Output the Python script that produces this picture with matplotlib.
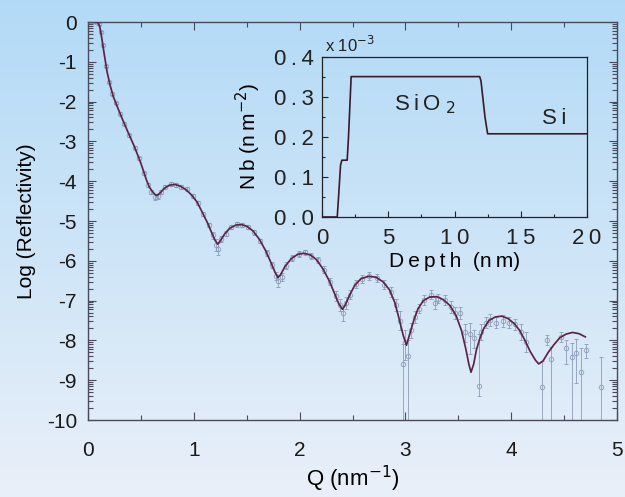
import numpy as np
import matplotlib
matplotlib.use("Agg")
import matplotlib.pyplot as plt
from matplotlib.ticker import FixedLocator, MultipleLocator, FuncFormatter

plt.rcParams['font.family'] = ['Liberation Sans', 'DejaVu Sans']
plt.rcParams['axes.unicode_minus'] = False

# --- fitted reflectivity curve ---
fit_q = [0.00, 0.05, 0.09, 0.11, 0.13, 0.15, 0.18, 0.21, 0.24, 0.28, 0.33, 0.38, 0.44,
         0.50, 0.55, 0.58, 0.62, 0.65, 0.68, 0.72, 0.77, 0.82, 0.87, 0.93, 0.98, 1.03,
         1.08, 1.13, 1.17, 1.20, 1.225, 1.25, 1.29, 1.34, 1.40, 1.45, 1.50, 1.56, 1.62,
         1.68, 1.73, 1.77, 1.795, 1.82, 1.86, 1.92, 1.98, 2.04, 2.10, 2.16, 2.22, 2.28,
         2.33, 2.37, 2.405, 2.43, 2.47, 2.52, 2.58, 2.65, 2.72, 2.79, 2.85, 2.90, 2.94,
         2.98, 3.01, 3.04, 3.08, 3.12, 3.17, 3.23, 3.30, 3.36, 3.42, 3.48, 3.53, 3.57,
         3.60, 3.62, 3.645, 3.67, 3.70, 3.74, 3.79, 3.85, 3.91, 3.97, 4.03, 4.08, 4.13,
         4.18, 4.23, 4.26, 4.30, 4.35, 4.40, 4.46, 4.52, 4.58, 4.64, 4.70]
fit_logr = [0.02, 0.03, 0.00, -0.10, -0.40, -0.75, -1.25, -1.60, -1.88, -2.15, -2.47, -2.78, -3.14,
            -3.55, -3.95, -4.15, -4.30, -4.36, -4.30, -4.18, -4.10, -4.08, -4.12, -4.22, -4.35, -4.52,
            -4.78, -5.05, -5.30, -5.48, -5.58, -5.50, -5.33, -5.18, -5.10, -5.09, -5.13, -5.25, -5.46,
            -5.75, -6.05, -6.30, -6.42, -6.35, -6.15, -5.95, -5.84, -5.81, -5.85, -5.97, -6.20, -6.50,
            -6.82, -7.08, -7.22, -7.12, -6.88, -6.62, -6.45, -6.39, -6.41, -6.53, -6.73, -7.05, -7.45,
            -7.88, -8.12, -7.85, -7.49, -7.20, -7.00, -6.91, -6.90, -6.98, -7.12, -7.38, -7.75, -8.20,
            -8.60, -8.80, -8.60, -8.25, -7.98, -7.70, -7.50, -7.41, -7.39, -7.45, -7.58, -7.75, -8.00,
            -8.28, -8.50, -8.59, -8.52, -8.30, -8.12, -7.93, -7.84, -7.80, -7.83, -7.91]

# --- measured points with error bars ---
data_q = [0.02, 0.04, 0.06, 0.08, 0.10, 0.12, 0.14, 0.17, 0.20, 0.23, 0.26, 0.30, 0.34, 0.39,
          0.44, 0.48, 0.53, 0.57, 0.60, 0.63, 0.66, 0.69, 0.73, 0.78, 0.83, 0.88, 0.94, 0.99,
          1.04, 1.09, 1.14, 1.18, 1.21, 1.23, 1.26, 1.30, 1.35, 1.41, 1.46, 1.51, 1.57, 1.63,
          1.69, 1.74, 1.78, 1.80, 1.83, 1.87, 1.93, 1.99, 2.05, 2.11, 2.17, 2.23, 2.29, 2.34,
          2.38, 2.41, 2.44, 2.48, 2.53, 2.59, 2.66, 2.73, 2.80, 2.86, 2.91, 2.95, 2.98, 3.00,
          3.02, 3.05, 3.09, 3.13, 3.18, 3.24, 3.28, 3.31, 3.37, 3.43, 3.47, 3.52, 3.56, 3.61,
          3.65, 3.70, 3.71, 3.76, 3.80, 3.86, 3.92, 3.98, 4.04, 4.09, 4.14, 4.29, 4.34, 4.38,
          4.47, 4.52, 4.57, 4.61, 4.66, 4.71, 4.85]
data_logr = [0.02, 0.03, 0.02, 0.01, -0.05, -0.25, -0.58, -1.10, -1.50, -1.80, -2.03, -2.30, -2.55, -2.85,
             -3.16, -3.42, -3.80, -4.10, -4.27, -4.40, -4.38, -4.27, -4.14, -4.07, -4.10, -4.14, -4.20, -4.38,
             -4.55, -4.82, -5.10, -5.36, -5.60, -5.70, -5.45, -5.32, -5.15, -5.08, -5.10, -5.15, -5.28, -5.50,
             -5.80, -6.10, -6.38, -6.50, -6.40, -6.12, -5.93, -5.83, -5.79, -5.88, -5.98, -6.22, -6.52, -6.88,
             -7.12, -7.30, -7.05, -6.85, -6.58, -6.46, -6.37, -6.43, -6.60, -6.78, -7.10, -7.50, -8.60, -8.05,
             -8.40, -7.75, -7.40, -7.20, -6.98, -6.85, -7.05, -6.95, -6.98, -7.15, -7.32, -7.31, -7.80, -7.85,
             -7.95, -9.15, -7.80, -7.55, -7.48, -7.55, -7.52, -7.55, -7.60, -7.80, -8.05, -9.17, -7.99, -8.47,
             -7.91, -8.20, -8.42, -8.31, -8.79, -8.24, -9.17]
err_lo = [0.03, 0.03, 0.03, 0.03, 0.03, 0.03, 0.03, 0.03, 0.03, 0.03, 0.03, 0.03, 0.03, 0.03,
          0.04, 0.04, 0.04, 0.05, 0.05, 0.08, 0.06, 0.05, 0.05, 0.05, 0.05, 0.05, 0.05, 0.05,
          0.05, 0.05, 0.06, 0.08, 0.15, 0.15, 0.08, 0.06, 0.06, 0.06, 0.06, 0.06, 0.06, 0.06,
          0.08, 0.08, 0.10, 0.15, 0.10, 0.08, 0.07, 0.07, 0.07, 0.07, 0.08, 0.08, 0.10, 0.12,
          0.15, 0.20, 0.15, 0.12, 0.10, 0.10, 0.10, 0.10, 0.12, 0.12, 0.15, 0.25, 1.60, 0.45,
          1.80, 0.20, 0.15, 0.12, 0.12, 0.12, 0.15, 0.12, 0.12, 0.15, 0.15, 0.15, 0.25, 0.50,
          0.25, 0.25, 0.20, 0.15, 0.15, 0.15, 0.15, 0.15, 0.15, 0.20, 0.25, 1.10, 0.12, 1.80,
          0.12, 0.40, 1.80, 0.75, 1.60, 0.20, 1.10]
err_hi = [0.03, 0.03, 0.03, 0.03, 0.03, 0.03, 0.03, 0.03, 0.03, 0.03, 0.03, 0.03, 0.03, 0.03,
          0.04, 0.04, 0.04, 0.05, 0.05, 0.08, 0.06, 0.05, 0.05, 0.05, 0.05, 0.05, 0.05, 0.05,
          0.05, 0.05, 0.06, 0.08, 0.15, 0.15, 0.08, 0.06, 0.06, 0.06, 0.06, 0.06, 0.06, 0.06,
          0.08, 0.08, 0.10, 0.15, 0.10, 0.08, 0.07, 0.07, 0.07, 0.07, 0.08, 0.08, 0.10, 0.12,
          0.15, 0.20, 0.15, 0.12, 0.10, 0.10, 0.10, 0.10, 0.12, 0.12, 0.15, 0.25, 0.50, 0.30,
          0.40, 0.20, 0.15, 0.12, 0.12, 0.12, 0.15, 0.12, 0.12, 0.15, 0.15, 0.15, 0.20, 0.30,
          0.20, 1.30, 0.20, 0.15, 0.15, 0.15, 0.15, 0.15, 0.15, 0.20, 0.25, 0.65, 0.12, 0.30,
          0.12, 0.20, 0.35, 0.35, 0.60, 0.15, 0.75]

# --- scattering length density profile (inset) ---
depth_nm = [0.0, 1.15, 1.25, 1.40, 1.50, 1.90, 2.00, 2.20, 11.90, 12.00, 12.30, 12.50, 20.0]
nb_1e3 = [0.0, 0.0, 0.05, 0.13, 0.142, 0.142, 0.20, 0.351, 0.351, 0.34, 0.25, 0.208, 0.208]

curve_color = '#5e2447'
point_color = '#8796b2'
spine_color = '#4b4a5c'

fig = plt.figure(figsize=(6.25, 4.97), dpi=100)

# soft blue backdrop
bg = fig.add_axes([0, 0, 1, 1], zorder=-10)
grad = np.linspace(0, 1, 256)[:, None]
top_rgb = np.array([0.70, 0.855, 0.965])
bot_rgb = np.array([0.915, 0.94, 0.975])
img = top_rgb[None, None, :] * (1 - grad[..., None]) + bot_rgb[None, None, :] * grad[..., None]
bg.imshow(img, aspect='auto', extent=[0, 1, 0, 1])
bg.axis('off')

ax = fig.add_axes([0.1408, 0.1549, 0.8464, 0.8008])
ax.set_facecolor('none')
ax.errorbar(data_q, data_logr, yerr=[err_lo, err_hi], fmt='o', ms=3.2, mfc='none',
            mec=point_color, mew=0.7, ecolor=point_color, elinewidth=0.7, capsize=1.2,
            capthick=0.6, zorder=2, alpha=0.8)
ax.plot(fit_q, fit_logr, color=curve_color, lw=1.25, zorder=3)

ax.set_xlim(0, 5)
ax.set_ylim(-10, 0)
ax.xaxis.set_major_locator(MultipleLocator(1))
ax.xaxis.set_minor_locator(MultipleLocator(0.5))
ax.yaxis.set_major_locator(MultipleLocator(1))
minor_y = [d + np.log10(m) for d in range(-10, 0) for m in range(2, 10)]
ax.yaxis.set_minor_locator(FixedLocator(minor_y))
ax.tick_params(which='both', direction='in', top=True, right=True, colors=spine_color,
               labelcolor='#1a1a1a', width=0.8)
ax.tick_params(which='major', length=6, labelsize=15)
ax.tick_params(which='minor', length=3.5)
ax.tick_params(axis='x', which='major', pad=15)
ax.tick_params(axis='y', which='major', pad=8)
for s in ax.spines.values():
    s.set_color(spine_color)
    s.set_linewidth(1.0)
ax.set_xlabel('Q (nm$^{-1}$)', fontsize=16, labelpad=3)
ax.set_ylabel('Log (Reflectivity)', fontsize=15, labelpad=8)

# inset with the density profile
ins = fig.add_axes([0.5152, 0.5634, 0.424, 0.3219])
ins.set_facecolor('none')
ins.plot(depth_nm, nb_1e3, color='#3a1a2a', lw=1.2)
ins.set_xlim(0, 20)
ins.set_ylim(0, 0.4)
ins.xaxis.set_major_locator(MultipleLocator(5))
ins.yaxis.set_major_locator(MultipleLocator(0.1))
ins.xaxis.set_minor_locator(MultipleLocator(2.5))
ins.yaxis.set_minor_locator(MultipleLocator(0.05))
spaced = lambda s: '\u2009'.join(s)
ins.xaxis.set_major_formatter(FuncFormatter(lambda v, p: spaced('%d' % v)))
ins.yaxis.set_major_formatter(FuncFormatter(lambda v, p: spaced('%.1f' % v)))
ins.tick_params(which='both', direction='in', colors='#222222', width=0.8, labelsize=16)
ins.tick_params(which='major', length=4)
ins.tick_params(axis='x', which='major', pad=8)
ins.tick_params(axis='y', which='major', pad=6)
ins.tick_params(which='minor', length=2)
for s in ins.spines.values():
    s.set_color('#222222')
    s.set_linewidth(0.9)
ins.set_xlabel(spaced('Depth') + '  (' + spaced('nm') + ')', fontsize=15, labelpad=2)
ins.set_ylabel(spaced('Nb') + ' (' + spaced('nm') + '$^{-2}$)', fontsize=15, labelpad=8)
ins.text(0.01, 1.03, 'x 10$^{-3}$', transform=ins.transAxes, fontsize=12, color='#222222')
ins.text(5.4, 0.283, spaced('SiO') + '$_{\\ 2}$', fontsize=16, va='center', color='#222222')
ins.text(16.6, 0.247, spaced('Si'), fontsize=16, va='center', color='#222222')

fig.savefig('out.png', dpi=100)
